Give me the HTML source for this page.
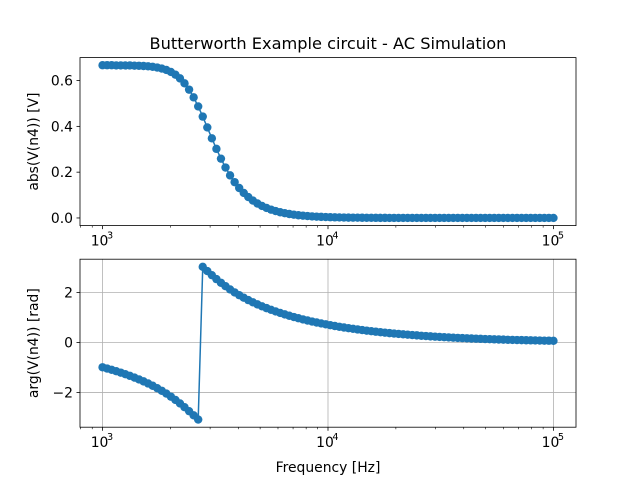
<!DOCTYPE html>
<html><head><meta charset="utf-8">
<style>
html,body{margin:0;padding:0;background:#fff;}
svg{display:block;font-family:"DejaVu Sans","Liberation Sans",sans-serif;}
</style></head>
<body>
<svg id="fig" width="640" height="480" viewBox="0 0 640 480" xmlns="http://www.w3.org/2000/svg">
<rect width="640" height="480" fill="#fff"/>
<text x="328" y="49" font-size="16.2" text-anchor="middle" fill="#000">Butterworth Example circuit - AC Simulation</text>
<g id="top"></g>
<g id="bot"></g>
<text x="328" y="472" font-size="13.9" text-anchor="middle" fill="#000">Frequency [Hz]</text>
</svg>
<script>
const NPTS = 100;
const freqStartExp = 3;
const freqEndExp = 5;
const magnitude = [0.667,0.667,0.667,0.666,0.666,0.666,0.666,0.665,0.6647,0.6637,
0.6622,0.66,0.657,0.6526,0.6464,0.6378,0.6258,0.6096,0.588,0.5604,
0.5267,0.4871,0.4427,0.3954,0.3479,0.3018,0.259,0.2203,0.186,0.1564,
0.1309,0.1094,0.0912,0.076,0.0632,0.0526,0.0437,0.0363,0.0301,0.025,
0.0208,0.0173,0.0143,0.0119,0.0099,0.0082,0.0068,0.0057,0.0047,0.0039,
0.0032,0.0027,0.0022,0.0019,0.0015,0.0013,0.0011,0.0009,0.0007,0.0006,
0.0005,0.0004,0.0004,0.0003,0.0003,0.0002,0.0002,0.0002,0.0001,0.0001,
0.0001,0.0001,0.0001,0.0001,0.0001,0,0,0,0,0,
0,0,0,0,0,0,0,0,0,0,
0,0,0,0,0,0,0,0,0,0];
const phase = [-0.988,-1.038,-1.09,-1.144,-1.2025,-1.264,-1.329,-1.4,-1.473,-1.552,
-1.636,-1.727,-1.824,-1.928,-2.04,-2.163,-2.294,-2.434,-2.585,-2.744,
-2.91,-3.08,3.031,2.862,2.697,2.54,2.393,2.256,2.127,2.008,
1.898,1.796,1.7,1.612,1.529,1.452,1.379,1.311,1.246,1.186,
1.129,1.074,1.023,0.9745,0.928,0.884,0.843,0.804,0.766,0.7305,
0.697,0.664,0.633,0.604,0.5765,0.55,0.5245,0.5004,0.4775,0.4556,
0.4345,0.415,0.3965,0.3788,0.362,0.3459,0.3305,0.3157,0.3016,0.2881,
0.2723,0.26,0.2482,0.237,0.2263,0.216,0.2062,0.1969,0.188,0.1795,
0.1713,0.1636,0.1562,0.1491,0.1423,0.1359,0.1297,0.1238,0.1182,0.1129,
0.1078,0.1029,0.0982,0.0938,0.0895,0.0855,0.0816,0.0779,0.0744,0.071];
const xMajorExps = [3,4,5];
const topYTicks = [0.0,0.2,0.4,0.6];
const topYLabels = ["0.0","0.2","0.4","0.6"];
const botYTicks = [-2,0,2];
const botYLabels = ["\u22122","0","2"];

const NS="http://www.w3.org/2000/svg";
const C="#1f77b4";
const L=80,R=576;
const freqs=[];for(let i=0;i<NPTS;i++){freqs.push(Math.pow(10,freqStartExp+i*(freqEndExp-freqStartExp)/(NPTS-1)));}
function mk(tag,attrs,parent){const e=document.createElementNS(NS,tag);for(const k in attrs)e.setAttribute(k,attrs[k]);parent.appendChild(e);return e;}
const lmin=Math.log10(freqs[0]),lmax=Math.log10(freqs[freqs.length-1]);
const lpad=(lmax-lmin)*0.05;
function xs(f){return L+(Math.log10(f)-(lmin-lpad))/((lmax-lmin)+2*lpad)*(R-L);}

function panel(g,top,bot,vals,ticks,labels,grid,ylabel,names){
  const vmin=Math.min(...vals),vmax=Math.max(...vals),pad=(vmax-vmin)*0.05;
  const y0=vmin-pad,y1=vmax+pad;
  const ys=v=>bot-(v-y0)/(y1-y0)*(bot-top);
  // grid
  if(grid){
    xMajorExps.forEach(e=>{const x=xs(Math.pow(10,e));const ln=mk('line',{x1:x,x2:x,y1:top,y2:bot,stroke:'#b0b0b0','stroke-width':0.8},g);
      
      });
    ticks.forEach(t=>{const y=ys(t);const ln=mk('line',{x1:L,x2:R,y1:y,y2:y,stroke:'#b0b0b0','stroke-width':0.8},g);
      
      });
  }
  // series
  const pts=vals.map((v,i)=>xs(freqs[i]).toFixed(2)+','+ys(v).toFixed(2)).join(' ');
  const pl=mk('polyline',{points:pts,fill:'none',stroke:C,'stroke-width':1.5},g);
  
  
  vals.forEach((v,i)=>{const c=mk('circle',{cx:xs(freqs[i]),cy:ys(v),r:4.2,fill:C},g);
    
    });
  // frame
  const fr=mk('rect',{x:L,y:top,width:R-L,height:bot-top,fill:'none',stroke:'#000','stroke-width':0.8},g);
  
  
  // x ticks
  for(let e=2;e<=5;e++){for(let m=1;m<10;m++){const f=m*Math.pow(10,e);const x=xs(f);if(x<L||x>R)continue;
    const len=m===1?3.5:2;mk('line',{x1:x,x2:x,y1:bot,y2:bot+len,stroke:'#000','stroke-width':m===1?0.8:0.6},g);}}
  xMajorExps.forEach(e=>{const x=xs(Math.pow(10,e));
    const t=mk('text',{x:x-3,y:bot+20,'font-size':13.9,'text-anchor':'middle',fill:'#000'},g);
    
    
    t.textContent='10';
    const s=mk('text',{x:x+7.5,y:bot+13,'font-size':9.7,'text-anchor':'middle',fill:'#000'},g);
    s.textContent=String(e);});
  ticks.forEach((tv,i)=>{const y=ys(tv);mk('line',{x1:L-3.5,x2:L,y1:y,y2:y,stroke:'#000','stroke-width':0.8},g);
    const t=mk('text',{x:L-7,y:y+5,'font-size':13.9,'text-anchor':'end',fill:'#000'},g);
    
    
    t.textContent=labels[i];});
  const yl=mk('text',{x:0,y:0,'font-size':13.9,'text-anchor':'middle',fill:'#000',transform:`translate(38,${(top+bot)/2}) rotate(-90)`},g);
  
  
  yl.textContent=ylabel;
}
const gt=document.getElementById('top');


const gb=document.getElementById('bot');


panel(gt,57.6,225.6,magnitude,topYTicks,topYLabels,false,'abs(V(n4)) [V]','magnitude');
panel(gb,259.2,427.2,phase,botYTicks,botYLabels,true,'arg(V(n4)) [rad]','phase');
</script>
</body></html>
